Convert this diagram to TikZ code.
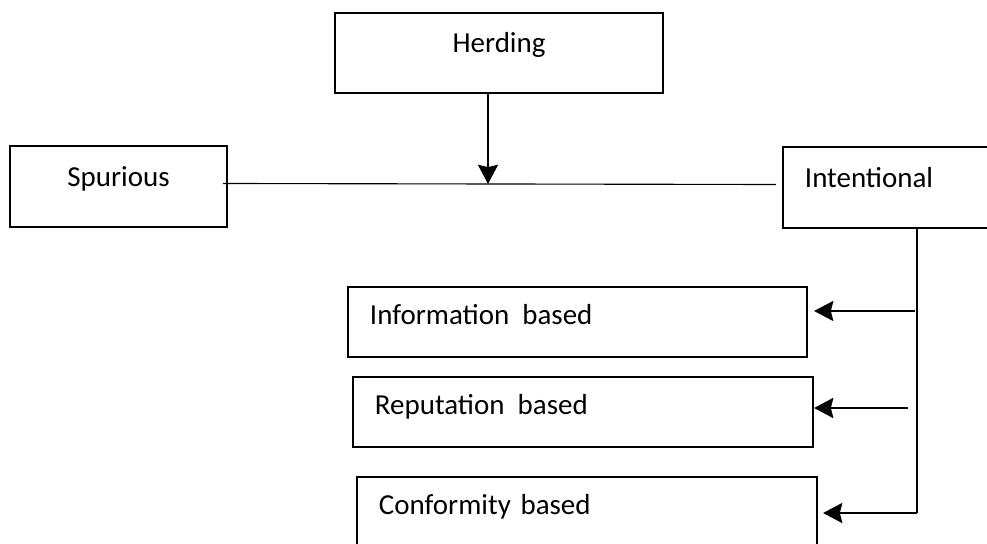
\documentclass[tikz,border=0pt]{standalone}
\usepackage{fontspec}
\setmainfont{Carlito}
\usetikzlibrary{calc, positioning, arrows.meta}
\tikzset{
  box/.style={draw, rectangle, line width=1.4pt, inner ysep=0pt, text height=0.7em, text depth=0.7em},
  sidebox/.style={box, inner xsep=0.55cm, align=left, text depth=0.37em},
  link/.style={line width=0.8pt},
  arr/.style={line width=1.6pt, -{Stealth[length=0.48cm, width=0.5cm, inset=0.06cm]}},
}

\begin{document}
\begin{tikzpicture}[x=0.025cm, y=-0.025cm, font=\fontsize{20.6}{24}\selectfont]
\useasboundingbox (0,0) rectangle (987,544);
\clip (0,0) rectangle (987,544);

\node[box, minimum width=8.2cm, minimum height=2cm] (herd) at (499,53) {Herding};
\node[box, minimum width=5.425cm, minimum height=2.025cm] (spur) at (118.5,186.5) {Spurious};
\node[box, inner xsep=0.55cm, align=left, text width=5cm, minimum height=2.025cm] (intent) at (905,187.5) {Intentional};

\node[sidebox, text width=10.375cm, minimum height=1.75cm] (info) at (577.5,322) {Information\hspace{0.12em} based};
\node[sidebox, text width=10.4cm, minimum height=1.75cm] (rep) at (583,412) {Reputation\hspace{0.12em} based};
\node[sidebox, text width=10.4cm, minimum height=1.75cm] (conf) at (587,512) {Conformity based};

\coordinate (hit) at (488,184);
\coordinate (trunk) at (917,513);
\coordinate (b1) at (915,311);
\coordinate (b2) at (908,408);

\draw[link] ($(spur.east)+(-5,-3)$) -- ($(intent.west)+(-6,-3)$);
\draw[arr] (herd.south -| hit) -- (hit);

\draw[link] (intent.south -| trunk) -- (trunk);
\draw[arr] (b1) -- ($(info.east |- b1)+(6,0)$);
\draw[arr] (b2) -- (rep.east |- b2);
\draw[arr] (trunk) -- ($(conf.east |- trunk)+(5,0)$);
\end{tikzpicture}
\end{document}
